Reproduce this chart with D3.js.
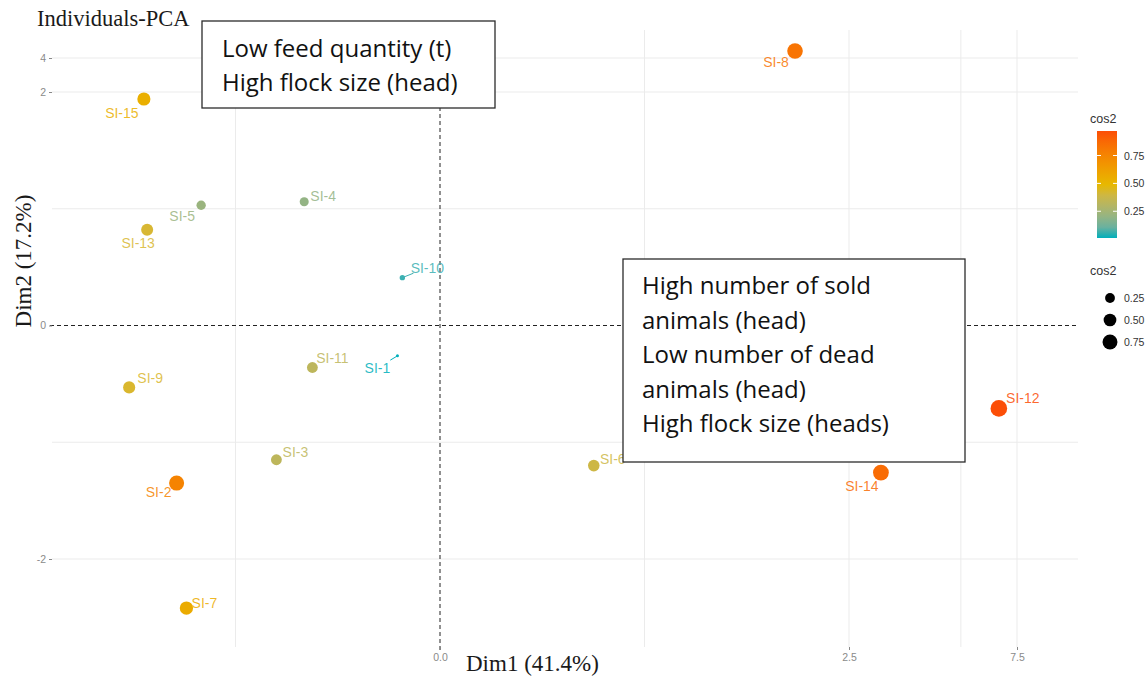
<!DOCTYPE html>
<html>
<head>
<meta charset="utf-8">
<script src="https://cdn.jsdelivr.net/npm/d3@7"></script>
<style>
  html, body { margin: 0; padding: 0; background: #fff; }
  svg { display: block; }
</style>
</head>
<body>
<svg id="chart" width="1147" height="676"></svg>
<script>
// Individuals on the first two principal components, coloured and sized by cos2
const individuals = ["SI-1","SI-2","SI-3","SI-4","SI-5","SI-6","SI-7","SI-8","SI-9","SI-10","SI-11","SI-12","SI-13","SI-14","SI-15"];
const dim1 = [-0.26, -1.61, -1.00, -0.83, -1.46, 0.94, -1.55, 2.17, -1.90, -0.23, -0.78, 6.96, -1.79, 3.45, -1.81];
const dim2 = [-0.26, -1.35, -1.15, 1.06, 1.03, -1.20, -2.42, 4.41, -0.53, 0.41, -0.36, -0.71, 0.82, -1.26, 1.94];
const cos2 = [0.01, 0.76, 0.33, 0.20, 0.22, 0.39, 0.56, 0.83, 0.44, 0.04, 0.33, 0.97, 0.43, 0.86, 0.54];

// Axis breaks and their labels
const xTicks = [0, 2.5, 7.5];
const xTickLabels = ["0.0", "2.5", "7.5"];
const xMinor = [-1.25, 1.25, 5.83];
const yTicks = [-2, 0, 2, 4];
const yTickLabels = ["-2", "0", "2", "4"];
const yMinor = [-1, 1];
const legendBreaks = [0.25, 0.50, 0.75];

// Annotation boxes
const noteTopLeft = ["Low feed quantity (t)", "High flock size (head)"];
const noteRight = ["High number of sold", "animals (head)", "Low number of dead", "animals (head)", "High flock size (heads)"];

// Label placement relative to each point (ggrepel-like)
const labelOffset = {
  "SI-1": [-20, 12], "SI-2": [-18, 9], "SI-3": [19, -8], "SI-4": [19, -6],
  "SI-5": [-19, 11], "SI-6": [19, -7], "SI-7": [18, -5], "SI-8": [-19, 11],
  "SI-9": [21, -9], "SI-10": [25, -10], "SI-11": [20, -10], "SI-12": [24, -10],
  "SI-13": [-9, 13], "SI-14": [-19, 13], "SI-15": [-22, 14]
};
const withSegment = new Set(["SI-1", "SI-10"]);

const svg = d3.select("#chart");
const panel = { left: 52, right: 1078, top: 30, bottom: 647 };

const x = d3.scaleLinear().domain([0, 2.5, 7.5]).range([440, 849, 1017]);
const y = d3.scaleLinear().domain([-2, 2, 4]).range([559, 92, 58]);

const cMin = d3.min(cos2), cMax = d3.max(cos2);
const color = d3.scaleLinear()
  .domain([cMin, (cMin + cMax) / 2, cMax])
  .range(["#00AFBB", "#E7B800", "#FC4E07"])
  .interpolate(d3.interpolateLab);
const sizeT = d3.scaleLinear().domain([cMin, cMax]).range([0, 1]).clamp(true);
const radius = v => 1.5 + 6.8 * Math.sqrt(sizeT(v));

const data = individuals.map((name, i) => ({ name, x: dim1[i], y: dim2[i], c: cos2[i] }));

const sans = "Liberation Sans, Arial, sans-serif";
const serif = "Liberation Serif, 'DejaVu Serif', serif";

// Grid
const grid = svg.append("g");
grid.selectAll(".hx").data(yMinor.concat(yTicks.filter(v => v !== 0))).join("line")
  .attr("x1", panel.left).attr("x2", panel.right)
  .attr("y1", d => y(d)).attr("y2", d => y(d))
  .attr("stroke", "#ebebeb").attr("stroke-width", 1);
grid.selectAll(".vx").data(xMinor.concat(xTicks.filter(v => v !== 0))).join("line")
  .attr("y1", panel.top).attr("y2", panel.bottom)
  .attr("x1", d => x(d)).attr("x2", d => x(d))
  .attr("stroke", "#ebebeb").attr("stroke-width", 1);

// Zero reference lines
svg.append("line")
  .attr("x1", panel.left - 2).attr("x2", panel.right)
  .attr("y1", y(0)).attr("y2", y(0))
  .attr("stroke", "#222").attr("stroke-width", 1).attr("stroke-dasharray", "4,3");
svg.append("line")
  .attr("y1", panel.top).attr("y2", panel.bottom + 3)
  .attr("x1", x(0)).attr("x2", x(0))
  .attr("stroke", "#222").attr("stroke-width", 1).attr("stroke-dasharray", "4,3");

// Axes
const yAxis = d3.axisLeft(y).tickValues(yTicks).tickSize(3).tickPadding(3)
  .tickFormat((d, i) => yTickLabels[i]);
const gy = svg.append("g").attr("transform", `translate(${panel.left},0)`).call(yAxis);
gy.select(".domain").remove();
gy.selectAll(".tick line").attr("stroke", "#888");
gy.selectAll(".tick text").attr("fill", "#8a8a8a").style("font-family", sans).style("font-size", "10.5px");

const xAxis = d3.axisBottom(x).tickValues(xTicks).tickSize(3).tickPadding(4)
  .tickFormat((d, i) => xTickLabels[i]);
const gx = svg.append("g").attr("transform", `translate(0,${panel.bottom})`).call(xAxis);
gx.select(".domain").remove();
gx.selectAll(".tick line").attr("stroke", "#888");
gx.selectAll(".tick text").attr("fill", "#8a8a8a").style("font-family", sans).style("font-size", "10.5px");

// Labels and repel segments
const labels = svg.append("g");
data.forEach(d => {
  const px = x(d.x), py = y(d.y);
  const [dx, dy] = labelOffset[d.name];
  if (withSegment.has(d.name)) {
    const len = Math.hypot(dx, dy);
    labels.append("line")
      .attr("x1", px).attr("y1", py)
      .attr("x2", px + dx * (1 - 15 / len)).attr("y2", py + dy * (1 - 15 / len))
      .attr("stroke", color(d.c)).attr("stroke-width", 1);
  }
  labels.append("text")
    .attr("x", px + dx).attr("y", py + dy)
    .attr("text-anchor", "middle").attr("dominant-baseline", "central")
    .attr("fill", color(d.c)).attr("fill-opacity", 0.85)
    .style("font-family", sans).style("font-size", "14px")
    .text(d.name);
});

// Points
svg.append("g").selectAll("circle").data(data).join("circle")
  .attr("cx", d => x(d.x)).attr("cy", d => y(d.y))
  .attr("r", d => radius(d.c))
  .attr("fill", d => color(d.c));

// Annotation boxes
function noteBox(bx, by, bw, bh, lines, tx, ty0, step) {
  const g = svg.append("g");
  g.append("rect").attr("x", bx).attr("y", by).attr("width", bw).attr("height", bh)
    .attr("fill", "#fff").attr("stroke", "#2b2b2b").attr("stroke-width", 1.3);
  g.selectAll("text").data(lines).join("text")
    .attr("x", tx).attr("y", (d, i) => ty0 + i * step)
    .attr("fill", "#111")
    .style("font-family", "'Open Sans', 'Noto Sans', sans-serif").style("font-size", "24px")
    .text(d => d);
}
noteBox(202, 21, 293, 87, noteTopLeft, 222, 57, 34);
noteBox(623, 259, 342, 203, noteRight, 642, 294, 34.5);

// Titles
svg.append("text").attr("x", 37).attr("y", 26)
  .attr("fill", "#1a1a1a")
  .style("font-family", serif).style("font-size", "22.5px")
  .text("Individuals-PCA");
svg.append("text").attr("x", 466).attr("y", 671)
  .attr("fill", "#1a1a1a")
  .style("font-family", serif).style("font-size", "23px")
  .text("Dim1 (41.4%)");
svg.append("text")
  .attr("transform", "translate(31,261) rotate(-90)")
  .attr("text-anchor", "middle")
  .attr("fill", "#1a1a1a")
  .style("font-family", serif).style("font-size", "23px")
  .text("Dim2 (17.2%)");

// Colour legend
const defs = svg.append("defs");
const grad = defs.append("linearGradient").attr("id", "cosGrad")
  .attr("x1", 0).attr("y1", 1).attr("x2", 0).attr("y2", 0);
d3.range(0, 1.0001, 0.1).forEach(t => {
  grad.append("stop").attr("offset", t).attr("stop-color", color(cMin + t * (cMax - cMin)));
});
const bar = { x: 1097, y: 131, w: 20, h: 107 };
const barScale = d3.scaleLinear().domain([cMin, cMax]).range([bar.y + bar.h, bar.y]);
svg.append("text").attr("x", 1090).attr("y", 123).attr("fill", "#333")
  .style("font-family", sans).style("font-size", "12.5px").text("cos2");
svg.append("rect").attr("x", bar.x).attr("y", bar.y).attr("width", bar.w).attr("height", bar.h)
  .attr("fill", "url(#cosGrad)");
legendBreaks.forEach(v => {
  const yy = barScale(v);
  svg.append("line").attr("x1", bar.x).attr("x2", bar.x + 4).attr("y1", yy).attr("y2", yy).attr("stroke", "#fff");
  svg.append("line").attr("x1", bar.x + bar.w - 4).attr("x2", bar.x + bar.w).attr("y1", yy).attr("y2", yy).attr("stroke", "#fff");
  svg.append("text").attr("x", 1124).attr("y", yy).attr("dominant-baseline", "central")
    .attr("fill", "#333").style("font-family", sans).style("font-size", "10.5px")
    .text(v.toFixed(2));
});

// Size legend
svg.append("text").attr("x", 1090).attr("y", 275).attr("fill", "#333")
  .style("font-family", sans).style("font-size", "12.5px").text("cos2");
legendBreaks.forEach((v, i) => {
  const yy = 298 + i * 22;
  svg.append("circle").attr("cx", 1110).attr("cy", yy).attr("r", radius(v)).attr("fill", "#000");
  svg.append("text").attr("x", 1124).attr("y", yy).attr("dominant-baseline", "central")
    .attr("fill", "#333").style("font-family", sans).style("font-size", "10.5px")
    .text(v.toFixed(2));
});
</script>
</body>
</html>
